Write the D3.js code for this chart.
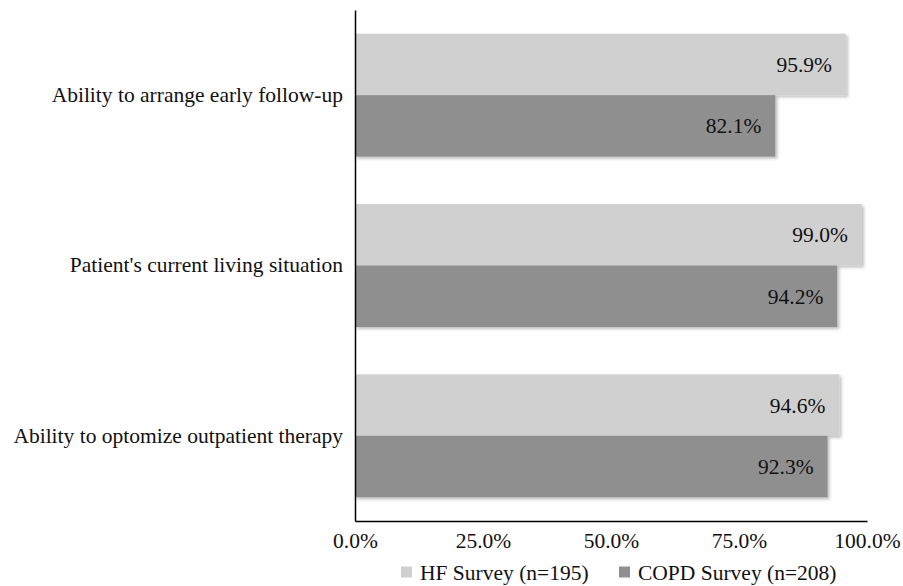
<!DOCTYPE html>
<html>
<head>
<meta charset="utf-8">
<script src="https://cdn.jsdelivr.net/npm/d3@7/dist/d3.min.js"></script>
<style>
  html, body { margin: 0; padding: 0; background: #fff; }
  svg text { font-family: "Liberation Serif", "Times New Roman", Times, serif !important; fill: #111; }
</style>
</head>
<body>
<svg id="chart" width="903" height="586"></svg>
<script>
// Survey items (top to bottom)
const categories = [
  "Ability to arrange early follow-up",
  "Patient's current living situation",
  "Ability to optomize outpatient therapy"
];
const seriesNames = ["HF Survey (n=195)", "COPD Survey (n=208)"];
const hfValues = [95.9, 99.0, 94.6];
const copdValues = [82.1, 94.2, 92.3];
const xTicks = [0, 25, 50, 75, 100];

const colors = ["#d0d0d0", "#8f8f8f"];
const seriesValues = [hfValues, copdValues];
const fontSize = 21.5;

const svg = d3.select("#chart");
const margin = { left: 355, right: 36, top: 10, bottom: 65 };
const W = 903, H = 586;

const x = d3.scaleLinear().domain([0, 100]).range([margin.left, W - margin.right]);
const y = d3.scaleBand().domain(categories).range([margin.top, H - margin.bottom])
  .paddingInner(0.278).paddingOuter(0.139);
const ySub = d3.scaleBand().domain(d3.range(seriesNames.length)).range([0, y.bandwidth()]);

// soft drop shadow under bars
const defs = svg.append("defs");
const f = defs.append("filter").attr("id", "shadow").attr("x", "-5%").attr("y", "-10%")
  .attr("width", "115%").attr("height", "130%");
f.append("feDropShadow").attr("dx", 2).attr("dy", 2).attr("stdDeviation", 1.5)
  .attr("flood-color", "#000").attr("flood-opacity", 0.25);

const rows = categories.map((c, i) => ({ cat: c, vals: seriesValues.map(s => s[i]) }));

const groups = svg.append("g").selectAll("g").data(rows).join("g")
  .attr("transform", d => `translate(0,${y(d.cat)})`);

groups.selectAll("rect").data(d => d.vals.map((v, k) => ({ v, k }))).join("rect")
  .attr("x", x(0))
  .attr("y", d => ySub(d.k))
  .attr("width", d => x(d.v) - x(0))
  .attr("height", ySub.bandwidth())
  .attr("fill", d => colors[d.k])
  .attr("filter", "url(#shadow)");

groups.selectAll("text.val").data(d => d.vals.map((v, k) => ({ v, k }))).join("text")
  .attr("class", "val")
  .attr("x", d => x(d.v) - 14)
  .attr("y", d => ySub(d.k) + ySub.bandwidth() / 2)
  .attr("dy", "0.35em")
  .attr("text-anchor", "end")
  .style("font-size", fontSize + "px")
  .text(d => d.v.toFixed(1) + "%");

// category axis
const yAxis = svg.append("g").attr("transform", `translate(${x(0)},0)`)
  .call(d3.axisLeft(y).tickSize(0).tickPadding(12));
yAxis.select(".domain").attr("stroke", "#000").attr("stroke-width", 1.5);
yAxis.selectAll("text").style("font-size", fontSize + "px");

// value axis
const xAxis = svg.append("g").attr("transform", `translate(0,${H - margin.bottom})`)
  .call(d3.axisBottom(x).tickValues(xTicks).tickFormat(d => d.toFixed(1) + "%")
    .tickSize(0).tickPadding(12));
xAxis.select(".domain").attr("stroke", "#000").attr("stroke-width", 1.5);
xAxis.selectAll("text").style("font-size", fontSize + "px");

// legend
const legendX = [401, 619];
const legend = svg.append("g").selectAll("g").data(seriesNames).join("g")
  .attr("transform", (d, i) => `translate(${legendX[i]},572)`);
legend.append("rect").attr("x", 0).attr("y", -5.5).attr("width", 11).attr("height", 11)
  .attr("fill", (d, i) => colors[i]);
legend.append("text").attr("x", 19).attr("dy", "0.35em")
  .style("font-size", fontSize + "px").text(d => d);
</script>
</body>
</html>
